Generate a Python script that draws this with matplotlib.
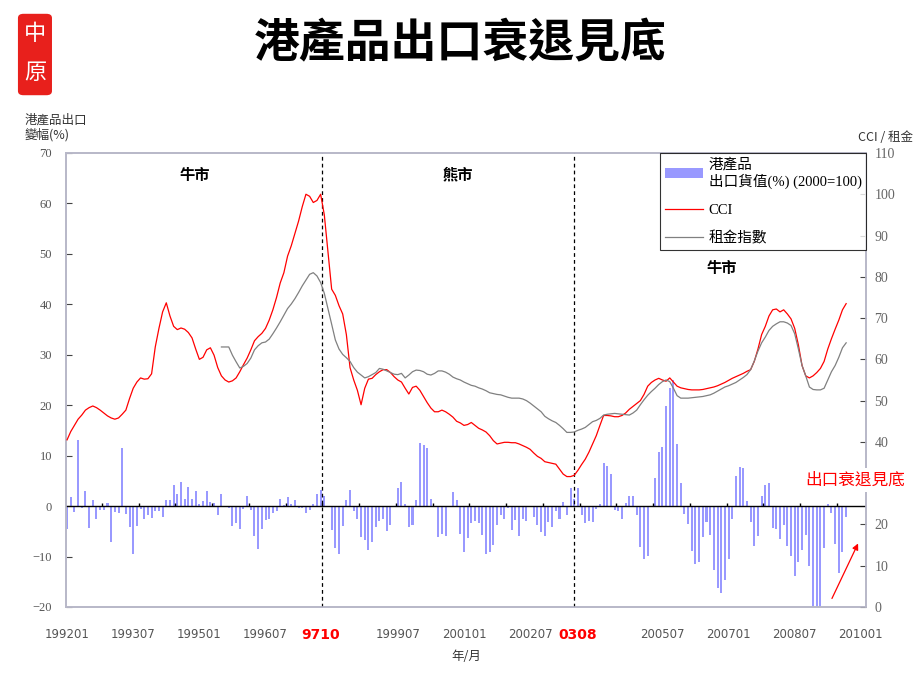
import numpy as np
import pandas as pd
import matplotlib
matplotlib.use("Agg")
import matplotlib.pyplot as plt
from matplotlib.patches import FancyBboxPatch, Patch, FancyArrowPatch
from matplotlib.lines import Line2D

plt.rcParams['font.family'] = ['Noto Sans CJK TC', 'DejaVu Sans']

# ---------------- data ----------------
# monthly axis categories 199201 .. 201001
months = [p.strftime('%Y%m') for p in pd.period_range('1992-01', '2010-01', freq='M')]

# HK domestic exports, yoy change (%), 199201 .. 200909
export_growth = [
    -4.6, 1.9, -1.1, 13.1, -0.3, 3.0, -4.3, 1.2, -2.5, -0.7, -0.8, 0.7,
    -7.1, -1.1, -1.3, 11.5, -1.5, -4.1, -9.4, -3.9, -0.5, -2.6, -1.8, -2.3,
    -0.9, -1.0, -2.1, 1.2, 1.3, 4.2, 2.4, 4.7, 1.4, 3.8, 1.5, 2.9,
    0.5, 1.0, 3.0, 0.8, 0.7, -1.7, 2.4, 0.1, -0.3, -3.9, -3.3, -4.5,
    -0.5, 2.0, -0.8, -5.9, -8.5, -4.5, -2.8, -2.5, -1.3, -1.0, 1.5, 0.2,
    1.9, 0.5, 1.2, -0.3, -0.3, -1.3, -0.7, 0.5, 2.4, 3.2, 2.0, 0.1,
    -4.8, -8.4, -9.5, -3.9, 1.3, 3.2, -0.9, -2.6, -6.1, -6.8, -8.7, -7.1,
    -4.1, -2.9, -2.6, -4.9, -3.8, 0.1, 3.5, 4.7, 0.5, -4.1, -3.8, 1.3,
    12.6, 12.1, 11.5, 1.5, 0.1, -6.2, -5.6, -6.0, 0.1, 2.8, 1.2, -5.6,
    -9.1, -6.3, -3.4, -3.0, -3.3, -5.8, -9.5, -9.1, -7.7, -3.8, -1.8, -2.6,
    -0.3, -4.8, -2.8, -6.0, -2.5, -2.9, 0.1, -2.1, -3.8, -5.1, -5.9, -3.1,
    -4.1, -0.9, -2.5, 0.9, -1.8, 3.5, 1.5, 3.5, -1.8, -3.3, -2.9, -3.1,
    -0.5, 0.5, 8.6, 7.9, 6.4, -0.7, -0.9, -2.5, 0.7, 2.0, 2.1, -1.8,
    -8.1, -10.4, -9.9, 0.1, 5.5, 10.7, 11.8, 19.9, 23.5, 25.0, 12.4, 4.5,
    -1.5, -3.6, -8.9, -11.5, -11.1, -6.1, -3.2, -5.7, -12.6, -16.2, -17.2, -14.7,
    -10.4, -2.5, 6.0, 7.7, 7.5, 1.0, -3.2, -7.9, -5.9, 2.1, 4.2, 4.6,
    -4.3, -4.6, -6.6, -3.8, -7.9, -9.9, -13.9, -11.1, -8.7, -5.8, -11.9, -21.0,
    -22.0, -21.0, -8.4, 0.5, -1.3, -7.5, -13.2, -9.1, -2.1,
]

# Centa-City Index, 199201 .. 200909
cci = [
    40.5, 42.5, 44.0, 45.5, 46.5, 47.7, 48.3, 48.7, 48.3, 47.7, 47.0, 46.3,
    45.8, 45.5, 45.8, 46.7, 47.7, 50.5, 53.0, 54.5, 55.5, 55.2, 55.3, 56.5,
    63.0, 67.5, 71.5, 73.7, 70.5, 68.0, 67.2, 67.6, 67.3, 66.5, 65.2, 62.5,
    60.0, 60.5, 62.3, 62.8, 61.0, 58.0, 56.0, 55.0, 54.5, 54.8, 55.5, 57.0,
    58.7, 60.3, 62.3, 64.5, 65.5, 66.3, 67.5, 69.5, 72.0, 75.0, 78.5, 81.0,
    85.0, 87.5, 90.5, 93.5, 97.0, 100.0, 99.5, 98.0, 98.5, 100.0, 95.0, 86.0,
    77.0, 75.5, 73.0, 71.0, 66.0, 58.0, 55.0, 52.5, 49.0, 53.0, 55.2, 55.4,
    56.3, 57.0, 57.5, 57.5, 56.8, 55.8, 55.0, 54.5, 53.0, 51.6, 53.2, 53.5,
    52.5, 51.0, 49.5, 48.2, 47.3, 47.3, 47.7, 47.3, 46.7, 46.0, 45.0, 44.6,
    44.0, 44.2, 44.7, 44.0, 43.3, 42.9, 42.4, 41.5, 40.3, 39.5, 39.7, 39.9,
    39.9, 39.8, 39.8, 39.5, 39.1, 38.7, 38.2, 37.3, 36.5, 36.0, 35.2, 35.0,
    34.8, 34.6, 33.4, 32.2, 31.6, 31.6, 31.9, 33.1, 34.5, 35.8, 37.5, 39.5,
    41.5, 44.0, 46.4, 46.4, 46.3, 46.1, 46.1, 46.4, 47.0, 47.9, 48.6, 49.3,
    50.0, 51.5, 53.5, 54.4, 55.0, 55.4, 55.0, 54.7, 55.5, 54.5, 53.5, 53.1,
    52.9, 52.7, 52.6, 52.6, 52.6, 52.7, 52.9, 53.1, 53.3, 53.6, 54.0, 54.4,
    54.9, 55.4, 55.8, 56.2, 56.6, 57.1, 57.5, 59.5, 62.5, 66.0, 68.0, 70.5,
    72.0, 72.2, 71.5, 72.0, 71.0, 69.8, 67.5, 63.5, 58.5, 56.0, 55.5, 56.0,
    56.8, 57.8, 59.5, 62.5, 65.0, 67.3, 69.5, 72.0, 73.5,
]

# rental index, 199507 .. 200909
rent_start = '199507'
rent = [
    63.0, 63.0, 63.0, 61.0, 59.4, 57.9,
    58.3, 59.0, 60.3, 62.3, 63.3, 64.0, 64.2, 64.9, 66.2, 67.6, 69.1, 70.7,
    72.3, 73.4, 74.7, 76.2, 77.8, 79.2, 80.6, 81.0, 80.2, 78.6, 76.0, 72.3,
    68.5, 64.7, 62.5, 61.2, 60.4, 59.5, 58.0, 56.9, 56.2, 55.5, 55.8, 56.3,
    56.8, 57.8, 57.6, 57.2, 56.8, 56.4, 56.3, 56.6, 55.5, 56.2, 57.0, 57.4,
    57.3, 57.0, 56.4, 56.2, 56.6, 57.2, 57.2, 56.9, 56.4, 55.7, 55.3, 55.0,
    54.5, 54.1, 53.7, 53.5, 53.1, 52.8, 52.4, 51.9, 51.7, 51.5, 51.4, 51.1,
    50.8, 50.6, 50.6, 50.6, 50.4, 50.0, 49.4, 48.7, 48.0, 47.3, 46.2, 45.6,
    45.1, 44.7, 44.0, 43.2, 42.3, 42.3, 42.4, 42.8, 43.1, 43.5, 44.2, 44.9,
    45.2, 45.7, 46.5, 46.7, 46.8, 46.9, 46.8, 46.7, 46.6, 46.5, 47.0, 47.7,
    49.0, 50.2, 51.3, 52.2, 53.0, 53.9, 54.6, 55.0, 54.6, 53.0, 51.2, 50.6,
    50.6, 50.6, 50.7, 50.8, 50.9, 51.0, 51.2, 51.4, 51.8, 52.3, 52.8, 53.3,
    53.6, 54.0, 54.4, 55.0, 55.6, 56.3, 57.5, 59.6, 62.0, 64.0, 65.4, 67.0,
    68.0, 68.6, 69.1, 69.1, 68.8, 68.2, 66.2, 62.5, 58.5, 56.0, 53.3, 52.7,
    52.6, 52.6, 53.0, 55.0, 57.0, 58.5, 60.5, 62.8, 64.0,
]

tick_months = ['199201', '199307', '199501', '199607', '199710', '199907',
               '200101', '200207', '200308', '200507', '200701', '200807', '201001']
tick_texts = ['199201', '199307', '199501', '199607', '9710', '199907',
              '200101', '200207', '0308', '200507', '200701', '200807', '201001']
event_months = ['199710', '200308']
right_ticks = list(range(0, 111, 10))
hidden_right_tick = 30   # covered by the red annotation in the reference

# ---------------- figure ----------------
fig = plt.figure(figsize=(9.2, 6.9), dpi=100)
ax = fig.add_axes([0.0717, 0.1203, 0.8696, 0.658])
ax2 = ax.twinx()

x_bar = np.arange(len(export_growth))
ax.bar(x_bar, export_growth, width=0.55, color='#9999ff', edgecolor='none', zorder=2)
ax.axhline(0, color='black', lw=1.0, zorder=3)
# small category ticks on zero line every 10 months
cat_ticks = np.arange(10, len(months), 10) - 0.5
ax.vlines(cat_ticks, 0, 0.6, color='black', lw=1.0, zorder=3)

ax.set_xlim(-0.3, 217.4)
ax.set_ylim(-20, 70)
ax.set_yticks(np.arange(-20, 71, 10))

x_line = np.arange(len(cci))
ax2.plot(x_line, cci, color='#ff0000', lw=0.9, zorder=4)
r0 = months.index(rent_start)
ax2.plot(np.arange(r0, r0 + len(rent)), rent, color='#808080', lw=0.9, zorder=4)
ax2.set_ylim(0, 110)
ax2.set_yticks(right_ticks)
ax2.set_yticklabels(['' if v == hidden_right_tick else str(v) for v in right_ticks])

for em, off in zip(event_months, [0.3, -1.0]):
    ax.axvline(months.index(em) + off, color='black', lw=0.9, ls=(0, (3, 2.5)), zorder=5)

tick_pos = [months.index(m) for m in tick_months]
ax.set_xticks(tick_pos)
ax.set_xticklabels(tick_texts)
for lbl, txt in zip(ax.get_xticklabels(), tick_texts):
    lbl.set_family(['DejaVu Sans'])
    if len(txt) == 4:
        lbl.set_color('#ff0000')
        lbl.set_fontweight('bold')
        lbl.set_fontsize(10)
    else:
        lbl.set_color('#555555')
        lbl.set_fontsize(8.5)
ax.tick_params(axis='x', length=0, pad=15)
ax.tick_params(axis='y', direction='in', length=4, color='#444444', labelsize=9,
               labelcolor='#555555', pad=10)
ax2.tick_params(axis='y', direction='in', length=4, color='#444444', labelsize=10,
                labelcolor='#666666', pad=6)
for lbl in ax.get_yticklabels():
    lbl.set_family(['Liberation Serif'])
for lbl in ax2.get_yticklabels():
    lbl.set_family(['Liberation Serif'])

for a in (ax, ax2):
    for s in a.spines.values():
        s.set_color('#b8b8c8')
        s.set_linewidth(1.2)

ax.set_xlabel('年/月', fontsize=9, color='#333333', labelpad=6)

# legend
handles = [Patch(facecolor='#9999ff', edgecolor='none'),
           Line2D([], [], color='#ff0000', lw=0.9),
           Line2D([], [], color='#808080', lw=0.9)]
labels = ['港產品\n出口貨值(%) (2000=100)', 'CCI', '租金指數']
leg = ax2.legend(handles, labels, loc='upper right', bbox_to_anchor=(1.0, 1.0),
                 borderaxespad=0, frameon=True, fancybox=False,
                 prop={'family': ['Liberation Serif', 'Noto Sans CJK TC'], 'size': 10.5},
                 edgecolor='black', handlelength=2.6, labelspacing=1.0,
                 borderpad=0.3, handletextpad=0.4)
leg.get_frame().set_linewidth(0.8)
leg.set_zorder(10)

# market phase labels
ax2.text(0.161, 0.952, '牛市', transform=ax2.transAxes, ha='center', va='center',
         fontsize=11, fontweight='bold')
ax2.text(0.49, 0.952, '熊市', transform=ax2.transAxes, ha='center', va='center',
         fontsize=11, fontweight='bold')
ax2.text(0.82, 0.747, '牛市', transform=ax2.transAxes, ha='center', va='center',
         fontsize=11, fontweight='bold')

# annotation (white box hides the axis behind it, as in the reference)
fig.text(0.929, 0.304, '出口衰退見底', color='#ff0000', ha='center', va='center',
         fontsize=12, zorder=20,
         bbox=dict(facecolor='white', edgecolor='none', pad=2.5))
fig.add_artist(FancyArrowPatch(
    (0.903, 0.129), (0.934, 0.216), transform=fig.transFigure,
    arrowstyle='-|>', mutation_scale=9, color='#ff0000', lw=0.9))

# axis titles
fig.text(0.027, 0.815, '港產品出口\n變幅(%)', ha='left', va='center', fontsize=9,
         color='#333333', linespacing=1.2)
fig.text(0.933, 0.801, 'CCI / 租金', ha='left', va='center', fontsize=9, color='#333333')

# title
fig.text(0.5, 0.935, '港產品出口衰退見底', ha='center', va='center', fontsize=33,
         fontweight='bold', color='black')

# logo
logo = FancyBboxPatch((0.0195, 0.862), 0.037, 0.118, transform=fig.transFigure,
                      boxstyle='round,pad=0.0,rounding_size=0.006',
                      facecolor='#e8201c', edgecolor='none')
fig.patches.append(logo)
fig.text(0.038, 0.951, '中', color='white', ha='center', va='center', fontsize=16)
fig.text(0.038, 0.895, '原', color='white', ha='center', va='center', fontsize=16)

fig.savefig('out.png', dpi=100)
